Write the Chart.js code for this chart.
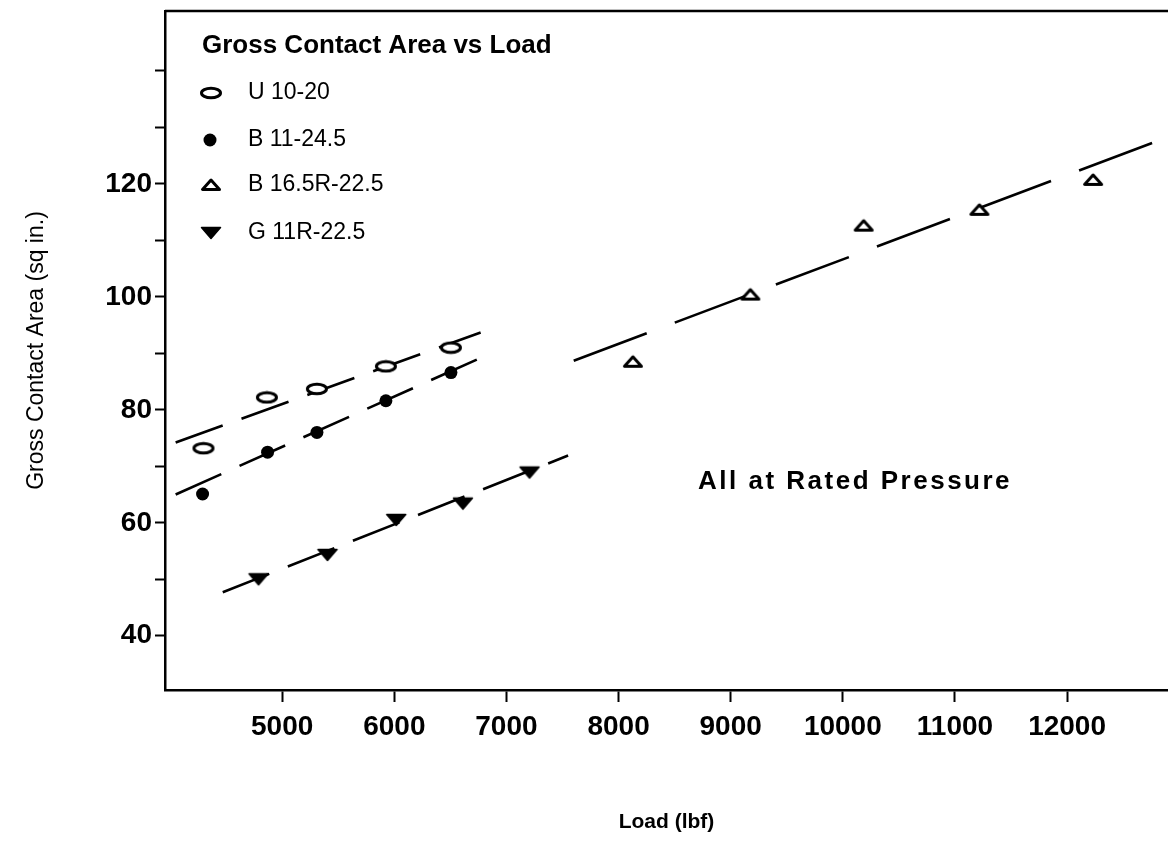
<!DOCTYPE html>
<html>
<head>
<meta charset="utf-8">
<title>Gross Contact Area vs Load</title>
<script src="https://cdn.jsdelivr.net/npm/chart.js@4.4.1/dist/chart.umd.min.js"></script>
<style>
  html, body { margin: 0; padding: 0; background: #fff; }
  #chart { display: block; }
</style>
</head>
<body>
<canvas id="chart" width="1168" height="846"></canvas>
<script>
'use strict';

/* ── Data ── */
const uLoad = [4298, 4864, 5310, 5925, 6505];
const uArea = [73.2, 82.2, 83.7, 87.7, 91.0];

const b11Load = [4290, 4870, 5310, 5925, 6505];
const b11Area = [65.1, 72.5, 76.0, 81.6, 86.6];

const b165Load = [8128, 9175, 10186, 11218, 12232];
const b165Area = [88.5, 100.4, 112.6, 115.4, 120.7];

const gLoad = [4789, 5404, 6017, 6612, 7206];
const gArea = [50.0, 54.3, 60.5, 63.4, 68.9];

/* fitted lines, end points */
const uFitLoad = [4050, 6770];
const uFitArea = [74.2, 93.7];
const b11FitLoad = [4050, 6770];
const b11FitArea = [65.0, 89.2];
const b165FitLoad = [7600, 12860];
const b165FitArea = [88.7, 128.0];
const gFitLoad = [4470, 7550];
const gFitArea = [47.7, 71.9];

const xTicks = [5000, 6000, 7000, 8000, 9000, 10000, 11000, 12000];
const yTicks = [40, 50, 60, 70, 80, 90, 100, 110, 120, 130, 140];
const yLabels = [40, 60, 80, 100, 120];

const seriesNames = ['U 10-20', 'B 11-24.5', 'B 16.5R-22.5', 'G 11R-22.5'];

const FONT = "'Liberation Sans', Arial, Helvetica, sans-serif";

/* ── Marker shapes ── */
function makeMarker(w, h, draw) {
    const c = document.createElement('canvas');
    c.width = w;
    c.height = h;
    draw(c.getContext('2d'));
    return c;
}

const ellipseMark = makeMarker(24, 14, g => {
    g.beginPath();
    g.ellipse(12, 7, 9.5, 4.8, 0, 0, Math.PI * 2);
    g.fillStyle = '#fff';
    g.fill();
    g.lineWidth = 3;
    g.strokeStyle = '#000';
    g.stroke();
});

const openTriMark = makeMarker(24, 16, g => {
    g.beginPath();
    g.moveTo(3.5, 12.5);
    g.lineTo(20.5, 12.5);
    g.lineTo(12, 3);
    g.closePath();
    g.fillStyle = '#fff';
    g.fill();
    g.lineWidth = 3;
    g.lineJoin = 'round';
    g.strokeStyle = '#000';
    g.stroke();
});

const downTriMark = makeMarker(24, 16, g => {
    g.beginPath();
    g.moveTo(2.5, 2.5);
    g.lineTo(21.5, 2.5);
    g.lineTo(12, 13.5);
    g.closePath();
    g.fillStyle = '#000';
    g.fill();
    g.lineWidth = 1.5;
    g.lineJoin = 'round';
    g.strokeStyle = '#000';
    g.stroke();
});

const markerStyles = [ellipseMark, 'circle', openTriMark, downTriMark];

const toPoints = (xs, ys) => xs.map((x, i) => ({ x, y: ys[i] }));

function pointSet(label, xs, ys, style) {
    return {
        label,
        data: toPoints(xs, ys),
        showLine: false,
        pointStyle: style,
        pointRadius: 6.5,
        pointBackgroundColor: '#000',
        pointBorderColor: '#000',
        pointBorderWidth: 0,
        order: 0,
    };
}

function fitSet(xs, ys, dash) {
    return {
        label: '',
        data: toPoints(xs, ys),
        showLine: true,
        borderColor: '#000',
        borderWidth: 2.6,
        borderDash: dash,
        pointRadius: 0,
        order: 1,
    };
}

// keep the plot box where the original frame is
function noEdgePadding(s) {
    s.paddingTop = 0;
    s.paddingBottom = 0;
    s.paddingLeft = 0;
    s.paddingRight = 0;
}

/* ── Legend, frame top and note drawn inside the plot ── */
const decorPlugin = {
    id: 'decor',
    afterDraw(chart) {
        const { ctx, chartArea } = chart;
        ctx.save();

        // top frame line
        ctx.strokeStyle = '#000';
        ctx.lineWidth = 2.5;
        ctx.beginPath();
        ctx.moveTo(chartArea.left, chartArea.top);
        ctx.lineTo(chartArea.right, chartArea.top);
        ctx.stroke();

        // legend
        ctx.fillStyle = '#000';
        ctx.textBaseline = 'middle';
        ctx.textAlign = 'left';
        ctx.font = `bold 26px ${FONT}`;
        ctx.fillText('Gross Contact Area vs Load', 202, 46);

        ctx.font = `23px ${FONT}`;
        const rows = [93, 140, 185, 233];
        rows.forEach((y, i) => {
            const style = markerStyles[i];
            if (style === 'circle') {
                ctx.beginPath();
                ctx.arc(210, y, 6.5, 0, Math.PI * 2);
                ctx.fill();
            } else {
                ctx.drawImage(style, 211 - style.width / 2, y - style.height / 2);
            }
            ctx.fillText(seriesNames[i], 248, y);
        });

        // note
        ctx.font = `bold 26px ${FONT}`;
        if ('letterSpacing' in ctx) ctx.letterSpacing = '2.5px';
        ctx.fillText('All at Rated Pressure', 698, 482);

        ctx.restore();
    },
};

new Chart(document.getElementById('chart'), {
    type: 'scatter',
    data: {
        datasets: [
            pointSet(seriesNames[0], uLoad, uArea, ellipseMark),
            pointSet(seriesNames[1], b11Load, b11Area, 'circle'),
            pointSet(seriesNames[2], b165Load, b165Area, openTriMark),
            pointSet(seriesNames[3], gLoad, gArea, downTriMark),
            fitSet(uFitLoad, uFitArea, [50, 20]),
            fitSet(b11FitLoad, b11FitArea, [50, 20]),
            fitSet(b165FitLoad, b165FitArea, [78, 30]),
            fitSet(gFitLoad, gFitArea, [50, 20]),
        ],
    },
    options: {
        responsive: false,
        devicePixelRatio: 1,
        animation: false,
        layout: {
            autoPadding: false,
            padding: { top: 11, right: 0, left: 0, bottom: 0 },
        },
        plugins: {
            legend: { display: false },
            tooltip: { enabled: false },
        },
        scales: {
            x: {
                type: 'linear',
                min: 3955,
                max: 12900,
                afterFit: s => { s.height = 156; noEdgePadding(s); },
                afterBuildTicks: s => { s.ticks = xTicks.map(v => ({ value: v })); },
                border: { display: true, color: '#000', width: 2.5 },
                grid: {
                    drawOnChartArea: false,
                    drawTicks: true,
                    tickLength: 12,
                    tickWidth: 2,
                    tickColor: '#000',
                },
                ticks: {
                    color: '#000',
                    padding: 8,
                    maxRotation: 0,
                    autoSkip: false,
                    font: { family: FONT, size: 28, weight: 'bold' },
                    callback: v => String(v),
                },
                title: {
                    display: true,
                    text: 'Load (lbf)',
                    color: '#000',
                    font: { family: FONT, size: 21, weight: 'bold' },
                    padding: { top: 0, bottom: 11 },
                },
            },
            y: {
                type: 'linear',
                min: 30.4,
                max: 150.6,
                afterFit: s => { s.width = 165; noEdgePadding(s); },
                afterBuildTicks: s => { s.ticks = yTicks.map(v => ({ value: v })); },
                border: { display: true, color: '#000', width: 2.5 },
                grid: {
                    drawOnChartArea: false,
                    drawTicks: true,
                    tickLength: 10,
                    tickWidth: 2,
                    tickColor: '#000',
                },
                ticks: {
                    color: '#000',
                    padding: 3,
                    autoSkip: false,
                    font: { family: FONT, size: 28, weight: 'bold' },
                    callback: v => (yLabels.includes(v) ? String(v) : ''),
                },
                title: {
                    display: true,
                    text: 'Gross Contact Area (sq in.)',
                    color: '#000',
                    font: { family: FONT, size: 23, weight: 'normal' },
                    padding: { top: 23, bottom: 0 },
                },
            },
        },
    },
    plugins: [decorPlugin],
});
</script>
</body>
</html>
